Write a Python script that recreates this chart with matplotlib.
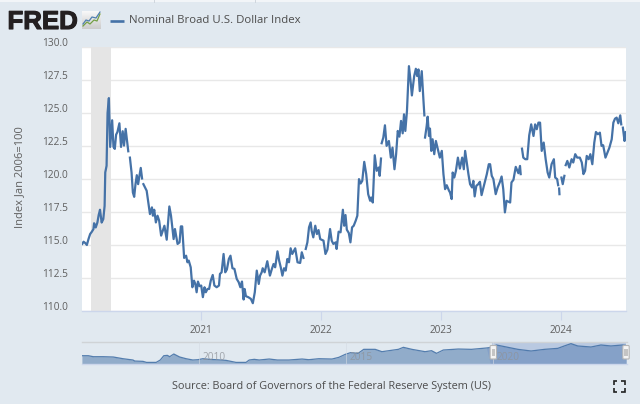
import numpy as np
import matplotlib
matplotlib.use("Agg")
import matplotlib.pyplot as plt
from matplotlib.patches import Rectangle, FancyBboxPatch
from matplotlib.transforms import ScaledTranslation
import matplotlib.patheffects as pe

plt.rcParams['font.family'] = ['Open Sans', 'DejaVu Sans']

BG = '#e1e9f0'
LINE = '#4572a7'
TXT = '#5f5f5f'

START = np.datetime64('2020-01-01')
SERIES_NAME = 'Nominal Broad U.S. Dollar Index'
Y_LABEL = 'Index Jan 2006=100'
SOURCE = 'Source: Board of Governors of the Federal Reserve System (US)'
Y_TICKS = [110.0, 112.5, 115.0, 117.5, 120.0, 122.5, 125.0, 127.5, 130.0]
X_TICK_DATES = ['2021-01-01', '2022-01-01', '2023-01-01', '2024-01-01']
X_TICK_LABELS = ['2021', '2022', '2023', '2024']
RECESSION = ['2020-02-01', '2020-04-01']

# days since 2020-01-01 and index values, one pair per unbroken stretch
days_a = [4,8,13,18,23,28,33,38,40,45,50,54,58,63,68,72,74,78,81,85,89,95,99,103,107,111,117,122,127,131,136,144]
vals_a = [115.08,115.25,115.15,115.0,115.45,115.83,116.0,116.2,116.65,116.33,116.7,117.27,117.67,116.7,116.96,117.96,120.5,121.0,125.0,126.13,122.43,124.45,122.43,122.28,123.36,123.56,124.22,122.43,123.62,122.53,123.8,122.1]
days_b = [149,154,158,162,166,170,174,178,182,186]
vals_b = [121.62,120.49,118.98,118.65,119.61,120.29,119.61,120.24,120.84,120.04]
days_c = [190,195,200,205,210,216,219,223,228,233,238,244,249,254,261,269,274,278,282,286,294,300,304,308,314,320,324,328,334,339,344,348,352,356,361,366,371,376,380,385,390,395,401,406,413,420,423,428,434,439,444,450,455,461,467,474,480,485,490,495,498,502,509,517,523,529,535,541,545,550,553,559,567,575,
          581,586,591,598,603,608,613,618,623,628,633,638,643,652,659,667,672,677]
vals_c = [119.61,119.36,119.11,118.22,117.34,117.85,117.22,117.67,116.71,117.22,116.84,115.71,116.08,116.46,115.4,117.92,117.22,116.34,115.45,116.21,115.08,115.2,116.41,116.41,114.02,114.19,113.69,113.82,113.31,111.8,112.3,112.05,111.42,112.23,111.88,111.93,111.05,111.8,111.42,111.67,111.67,112.3,112.73,111.93,111.8,111.93,112.81,112.93,114.32,112.93,113.14,113.94,114.19,113.24,113.19,112.43,112.18,111.8,112.23,110.87,111.67,111.12,111.05,110.92,110.59,111.42,113.06,112.05,112.68,112.93,113.24,112.93,113.77,112.68,
          113.19,113.56,113.31,114.52,113.82,113.31,112.68,113.24,113.06,113.94,113.69,114.75,114.32,114.75,113.69,113.64,114.45,114.02]
days_d = [684,689,694,699,702,707,713,718,723,728,738,744,750,758,763,768,775,778,784,790,797,801,805,809,815,820,825,830,836,841,846,851,856,862,868,874,880,883,888,894,900,906,909,913]
vals_d = [114.7,115.2,116.34,116.71,116.08,115.58,116.46,115.83,116.13,115.45,115.33,114.32,114.65,116.21,115.33,115.08,115.2,114.7,116.01,115.96,117.67,116.46,117.27,116.16,115.91,115.2,116.34,116.46,116.84,117.22,119.99,119.66,119.86,121.3,120.37,118.85,118.35,118.6,118.22,121.8,120.62,120.87,120.24,121.55]
days_e = [915,920,925,930,937,943,948,954,959,964,969,974,979,983,987,992,998,1003,1007,1014,1019,1023,1027,1031,1037,1042,1045]
vals_e = [122.71,123.14,124.07,122.51,122.88,121.62,122.38,120.74,121.88,123.64,123.21,124.4,123.46,124.9,123.64,125.15,128.55,127.42,126.33,127.8,128.35,127.8,128.3,126.66,128.17,126.03,124.82]
days_f = [1047,1052,1055,1059,1062,1066,1070,1075,1080,1086,1092,1098,1103,1108,1113,1120,1123,1128,1131,1136,1141,1147,1153,1160,1165,1169,1174,1179,1184,1190,1194,1198,1203,1209,1214,1219,1226,1235,1241,1245,1250,1255,1262,1268,1275,1280,1285,1290,1295,1306,1310,1316,1323,1331,1336,1338]
vals_f = [123.14,124.02,124.72,123.26,123.82,122.13,123.01,121.88,122.88,122.25,121.62,122.13,120.37,119.23,119.53,119.11,118.98,118.48,120.49,120.11,120.62,121.62,120.79,121.62,120.74,122.13,121.25,120.37,119.61,119.36,119.86,118.68,119.48,119.61,119.79,118.78,119.48,120.37,121.12,121.12,120.24,119.99,118.85,119.36,119.79,120.19,119.23,117.47,118.35,118.22,119.74,119.94,120.92,120.44,120.99,120.37]
days_g = [1342,1346,1352,1358,1364,1370,1377,1382,1387,1392,1397,1402,1408,1414,1420,1425,1432,1439,1443,1449,1452]
vals_g = [122.3,121.62,121.5,121.5,123.31,124.14,123.26,124.14,123.77,124.27,124.27,122.13,122.76,121.5,120.49,120.11,121.12,121.5,120.11,119.99,119.53]
days_h = [1455,1456]
vals_h = [119.28,118.85]
days_i = [1462,1466,1471]
vals_i = [120.11,119.61,120.24]
days_j = [1475,1480,1486,1493,1498,1504,1510,1518,1524,1529,1534,1539,1545,1550,1556,1562,1567,1573,1579,1584,1589,1596,1602,1608,1615,1620,1625,1630,1635,1641,1644]
vals_j = [121.05,121.37,120.87,121.5,121.25,121.88,121.62,121.62,121.25,120.37,120.62,121.75,121.5,121.88,121.12,122.76,123.56,123.39,123.51,122.51,122.56,121.62,122.0,122.38,123.01,124.27,124.57,124.65,124.22,124.82,124.14]
days_k = [1649,1654,1657,1660]
vals_k = [123.89,122.88,123.56,123.14]
stretches = [(days_a, vals_a), (days_b, vals_b), (days_c, vals_c), (days_d, vals_d), (days_e, vals_e),
             (days_f, vals_f), (days_g, vals_g), (days_h, vals_h), (days_i, vals_i), (days_j, vals_j), (days_k, vals_k)]

# overview strip, whole history
nav_years = [2006.01,2006.23,2006.4,2006.74,2007.08,2007.41,2007.75,2007.81,2008.09,2008.21,2008.54,2008.68,2008.8,2008.92,2009.0,2009.14,2009.34,2009.56,2009.79,2009.96,2010.13,2010.35,2010.58,2010.92,2011.26,2011.6,2011.71,2011.88,2012.05,2012.39,2012.67,2013.06,2013.51,2013.74,2014.08,2014.53,2014.76,2014.98,2015.16,2015.42,2015.61,2016.0,2016.23,2016.79,2016.96,2017.25,2017.7,2017.92,2018.09,2018.32,2018.83,2019.28,2019.79,2019.96,2020.13,2020.41,2020.86,2021.31,2021.77,2022.22,2022.44,2022.67,2022.9,2023.35,2023.69,2024.03,2024.42,2024.55]
nav_vals = [104.5,104.5,102.6,102.6,102.0,98.7,96.2,94.2,93.6,91.6,91.6,96.2,104.5,105.2,102.6,107.8,102.0,98.7,96.2,96.8,98.7,97.5,96.8,95.5,91.6,91.6,96.2,97.5,96.2,98.1,96.2,96.2,98.1,96.8,98.7,98.1,101.3,107.1,110.4,109.1,116.8,116.8,112.3,116.8,120.7,116.8,112.3,114.2,109.1,115.5,117.4,116.8,119.4,120.7,125.2,122.0,116.8,113.6,116.8,118.7,123.3,127.8,123.3,121.3,125.2,123.3,125.2,124.5]
nav_ticks = [2010, 2015, 2020]

W, H = 640, 404
fig = plt.figure(figsize=(W / 100, H / 100), dpi=100, facecolor=BG)


def box(l, t, r, b):
    return [l / W, 1 - b / H, (r - l) / W, (b - t) / H]


# main plot
ax = fig.add_axes(box(81.6, 47, 626.5, 311), facecolor='white')
for d, v in stretches:
    ax.plot(START + np.array(d, dtype='timedelta64[D]'), np.array(v), color=LINE, lw=1.6,
            solid_joinstyle='round', zorder=4)
ax.axvspan(np.datetime64(RECESSION[0]), np.datetime64(RECESSION[1]), color='#e5e5e5', lw=0, zorder=2)
ax.set_xlim(START + np.timedelta64(2, 'D'), START + np.timedelta64(1660, 'D'))
ax.set_ylim(110, 130)
ax.set_yticks(Y_TICKS)
ax.set_yticklabels([f'{t:.1f}' for t in Y_TICKS], fontsize=7.3, color=TXT)
ax.tick_params(axis='y', length=0, pad=9.8)
off = ScaledTranslation(0, 5 / 100, fig.dpi_scale_trans)
for lab in ax.get_yticklabels():
    lab.set_transform(lab.get_transform() + off)
ax.set_xticks([np.datetime64(t) for t in X_TICK_DATES])
ax.set_xticklabels(X_TICK_LABELS, fontsize=7.2, color=TXT)
ax.tick_params(axis='x', length=6.2, width=0.8, color='#ccd6eb', pad=3.8)
ax.grid(axis='y', color='#e8e8e8', lw=1, zorder=1)
ax.set_axisbelow(True)
for s in ('top', 'left', 'right'):
    ax.spines[s].set_visible(False)
ax.spines['bottom'].set_color('#ccd6eb')
ax.spines['bottom'].set_linewidth(1)

# overview strip
nav = fig.add_axes(box(81.6, 342.3, 626.5, 364), facecolor=BG)
nav.axvspan(2019.99, 2024.56, color='#b9c9e1', lw=0, zorder=1)
nav.fill_between(nav_years, nav_vals, 80, where=np.array(nav_years) <= 2020.0, interpolate=True,
                 color='#91acca', lw=0, zorder=2)
nav.fill_between(nav_years, nav_vals, 80, where=np.array(nav_years) >= 2019.96, interpolate=True,
                 color='#85a1c8', lw=0, zorder=2)
nav.plot(nav_years, nav_vals, color=LINE, lw=0.9, alpha=0.9, zorder=3)
nav.set_xlim(2006.0, 2024.56)
nav.set_ylim(88.5, 130.4)
nav.set_xticks([])
nav.set_yticks([])
for t in nav_ticks:
    nav.axvline(t, color='#d4dbe3', lw=0.7, alpha=0.6, zorder=4)
    nav.annotate(str(t), (t, 0.31), xycoords=('data', 'axes fraction'), xytext=(15, 0), textcoords='offset pixels',
                 ha='center', va='center', fontsize=7.3, color='#8f9399', alpha=0.8, zorder=5)
for s in ('left', 'right'):
    nav.spines[s].set_visible(False)
nav.spines['top'].set_color('#cfd3d6')
nav.spines['top'].set_linewidth(1)
nav.spines['bottom'].set_color('#ccd6eb')
nav.spines['bottom'].set_linewidth(1)

# decorations in pixel coordinates
ov = fig.add_axes([0, 0, 1, 1], facecolor='none', zorder=10)
ov.axis('off')
ov.add_patch(Rectangle((0, 0), W, 1.7, color='#f2f5f8', lw=0))
for x in (153.5, 255):
    ov.plot([x, x], [0, 1.7], color='#cfd6dd', lw=0.7)

# logo
ov.text(7.5, 29, 'FRED', family='Liberation Sans', weight='bold', fontsize=18.6, color='#231f20', va='baseline',
        path_effects=[pe.withStroke(linewidth=0.8, foreground='#231f20')])
ov.imshow(np.linspace(0.97, 0.80, 20).reshape(-1, 1), extent=(82, 101, 29, 11), cmap='gray', vmin=0, vmax=1,
          aspect='auto', zorder=1)
ov.set_xlim(0, W)
ov.set_ylim(H, 0)
ov.plot([83, 87, 90, 94, 97, 100], [26, 22, 24, 20, 21, 14], color='#74a045', lw=0.9, zorder=2)
ov.plot([83, 86, 89, 92, 96, 100], [24, 20, 21, 17, 18, 12], color='#4f7fb0', lw=0.9, zorder=2)

# legend
ov.plot([110, 124], [20.5, 20.5], color=LINE, lw=1.9, solid_capstyle='butt')
ov.text(129, 20.5, SERIES_NAME, fontsize=8.2, color='#4d4d4d', va='center', ha='left')

# y label
ov.text(20, 177, Y_LABEL, rotation=90, fontsize=8.0, color=TXT, va='center', ha='center')

# source
ov.text(331.5, 386, SOURCE, fontsize=7.85, color='#4d4d4d', va='center', ha='center')

# slider handles
for x in (493.3, 626):
    ov.add_patch(FancyBboxPatch((x - 3.2, 345.5), 6.4, 13.5, boxstyle='round,pad=0,rounding_size=1',
                                fc='#f4f4f4', ec='#b5b5b5', lw=0.8, zorder=6))
    ov.add_patch(Rectangle((x - 1.8, 348.5), 3.6, 7.5, fc='#c4c4c4', lw=0, zorder=7))

# fullscreen icon
for xs, ys in (([613.5, 613.5, 617], [384.5, 381.2, 381.2]), ([621, 624.5, 624.5], [381.2, 381.2, 384.5]),
               ([613.5, 613.5, 617], [388, 391.5, 391.5]), ([621, 624.5, 624.5], [391.5, 391.5, 388])):
    ov.plot(xs, ys, color='#222222', lw=1.2, solid_capstyle='butt', solid_joinstyle='miter')

fig.savefig('out.png', dpi=100, facecolor=BG)
